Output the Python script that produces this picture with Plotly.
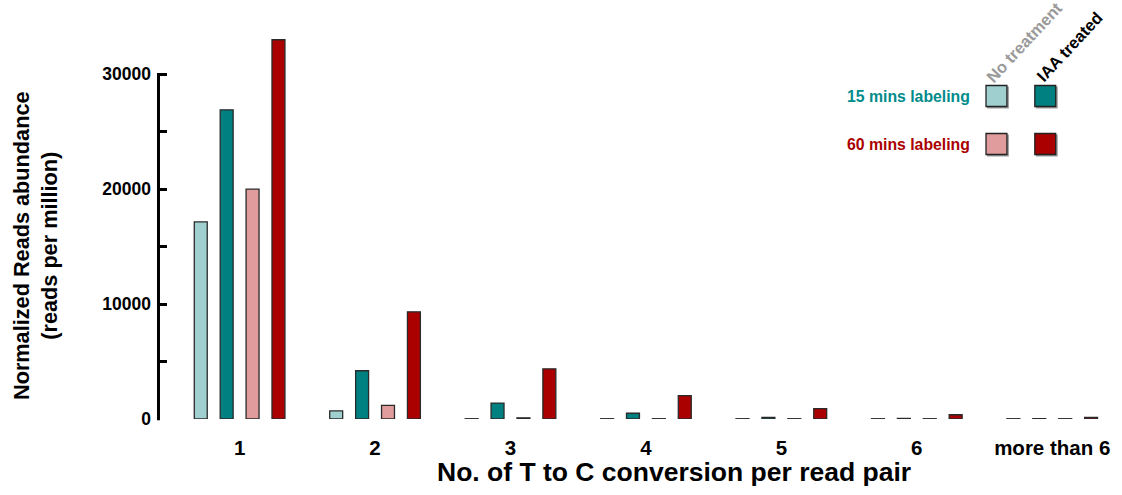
import plotly.graph_objects as go

# Number of T-to-C conversions per read pair
categories = ["1", "2", "3", "4", "5", "6", "more than 6"]

# Normalized read abundance (reads per million)
no_treat_15 = [17150, 700, 25, 25, 25, 25, 25]
iaa_15 = [26900, 4200, 1390, 500, 140, 50, 30]
no_treat_60 = [20000, 1180, 100, 25, 25, 25, 25]
iaa_60 = [33000, 9330, 4370, 2040, 900, 370, 150]

series = [
    ("15 mins, no treatment", no_treat_15, "#9fd0cf"),
    ("15 mins, IAA treated", iaa_15, "#008080"),
    ("60 mins, no treatment", no_treat_60, "#e09c9c"),
    ("60 mins, IAA treated", iaa_60, "#aa0000"),
]

FONT = "Liberation Sans, Arial, sans-serif"
W, H = 1122, 495
L, R, T, B = 157, 1110, 30, 419  # plot area edges in pixels
Y_MAX = 33850
Y_AXIS_TOP = 30000


def px(x):
    return (x - L) / (R - L)


def py(y):
    return (B - y) / (B - T)


fig = go.Figure()
for name, vals, col in series:
    fig.add_trace(go.Bar(
        x=categories, y=vals, name=name,
        marker=dict(color=col, line=dict(color="#2a2a2a", width=1.3)),
        showlegend=False,
    ))

# y axis spine, drawn only over 0..30000
spine_top = B - (B - T) * Y_AXIS_TOP / Y_MAX
shapes = [
    dict(type="line", xref="paper", yref="paper",
         x0=px(158.5), x1=px(158.5), y0=py(B + 1.3), y1=py(spine_top - 1.3),
         line=dict(color="#000000", width=3), layer="above"),
]
annotations = []

# Custom key: two rows (labeling time) x two columns (treatment)
rows = [("15 mins labeling", "#008b8b", 96, ["#9fd0cf", "#008080"]),
        ("60 mins labeling", "#aa0000", 144, ["#e09c9c", "#aa0000"])]
cols_x = [1000, 1049]
for text, tcol, yc, fills in rows:
    annotations.append(dict(
        x=px(975), y=py(yc), xref="paper", yref="paper", text=f"<b>{text}</b>",
        showarrow=False, xanchor="right", yanchor="middle",
        font=dict(family=FONT, size=15.8, color=tcol)))
    for cx, fc in zip(cols_x, fills):
        shapes.append(dict(type="rect", xref="paper", yref="paper",
                           x0=px(cx - 9.5), x1=px(cx + 12.5), y0=py(yc + 12.5), y1=py(yc - 9.5),
                           fillcolor="#9a9a9a", line=dict(width=0), layer="below"))
        shapes.append(dict(type="rect", xref="paper", yref="paper",
                           x0=px(cx - 10.5), x1=px(cx + 10.5), y0=py(yc + 10.5), y1=py(yc - 10.5),
                           fillcolor=fc, line=dict(color="#222", width=1.3)))

for text, cx, cy, col in [("No treatment", 1028, 42, "#9a9a9a"), ("IAA treated", 1073, 47, "#000000")]:
    annotations.append(dict(
        x=px(cx), y=py(cy), xref="paper", yref="paper", text=f"<b>{text}</b>",
        showarrow=False, textangle=-47, xanchor="center", yanchor="middle",
        font=dict(family=FONT, size=16.5, color=col)))

# Y axis title (two lines)
annotations.append(dict(
    x=px(35.5), y=py(246), xref="paper", yref="paper",
    text="<b>Normalized Reads abundance</b><br><b>(reads per million)</b>",
    showarrow=False, textangle=-90, xanchor="center", yanchor="middle",
    font=dict(family=FONT, size=21.7, color="black")))

# X axis title
annotations.append(dict(
    x=px(676), y=py(472), xref="paper", yref="paper",
    text="<b>No. of T to C conversion per read pair</b>",
    showarrow=False, xanchor="center", yanchor="middle",
    font=dict(family=FONT, size=26.5, color="black")))

fig.update_layout(
    width=W, height=H,
    margin=dict(l=L, r=W - R, t=T, b=H - B),
    paper_bgcolor="white", plot_bgcolor="white",
    barmode="group", bargap=0.235, bargroupgap=0.5,
    font=dict(family=FONT, color="black"),
    shapes=shapes, annotations=annotations,
    xaxis=dict(
        range=[-0.61, 6.397], showgrid=False, zeroline=False, showline=False,
        ticks="outside", ticklen=10, tickcolor="rgba(0,0,0,0)",
        tickfont=dict(family=FONT, size=20.5, color="black", weight="bold"),
    ),
    yaxis=dict(
        range=[0, Y_MAX], showgrid=False, zeroline=False, showline=False,
        tickvals=[0, 10000, 20000, 30000], ticktext=["0", "10000", "20000", "30000"],
        ticks="inside", ticklen=10, tickwidth=2.6, tickcolor="black",
        minor=dict(dtick=5000, ticks="inside", ticklen=10, tickwidth=2.6, tickcolor="black"),
        ticklabelstandoff=5,
        tickfont=dict(family=FONT, size=17.5, color="black", weight="bold"),
    ),
)

fig.write_html("out.html")
